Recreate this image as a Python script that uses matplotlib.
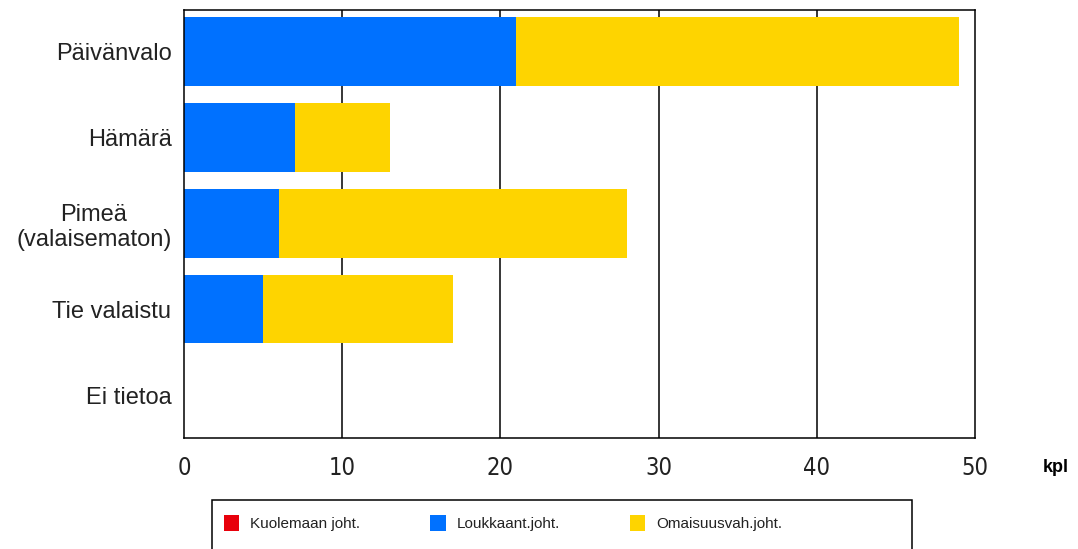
import matplotlib.pyplot as plt
from matplotlib.patches import Rectangle
from matplotlib import font_manager

# Data
categories = ['Päivänvalo', 'Hämärä', 'Pimeä\n(valaisematon)', 'Tie valaistu', 'Ei tietoa']
kuolemaan = [0, 0, 0, 0, 0]
loukkaant = [21, 7, 6, 5, 0]
omaisuus = [28, 6, 22, 12, 0]
series_names = ['Kuolemaan joht.', 'Loukkaant.joht.', 'Omaisuusvah.joht.']
x_ticks = [0, 10, 20, 30, 40, 50]

colors = ['#e8000b', '#0071ff', '#fed400']

# pick a condensed face for the x tick labels if one is installed
tick_font = dict(family='Liberation Sans', fontsize=17)
for f in font_manager.fontManager.ttflist:
    if f.name == 'Liberation Sans Narrow':
        tick_font = dict(family='Liberation Sans Narrow', fontsize=18)
        break
    if f.name == 'DejaVu Sans' and 'ondensed' in str(f.stretch).lower() + f.fname:
        tick_font = dict(family='DejaVu Sans', fontstretch='condensed', fontsize=17)

plt.rcParams['font.family'] = ['Liberation Sans', 'DejaVu Sans']

W, H = 1078, 549
fig = plt.figure(figsize=(W / 100, H / 100), dpi=100)
ax = fig.add_axes([184 / W, 1 - 438 / H, (975 - 184) / W, (438 - 10) / H])

y = list(range(len(categories)))
left = [0] * len(categories)
for vals, col in zip([kuolemaan, loukkaant, omaisuus], colors):
    ax.barh(y, vals, left=left, height=0.8, color=col, zorder=2)
    left = [l + v for l, v in zip(left, vals)]

ax.set_xlim(0, 50)
ax.set_ylim(4.5, -0.48)
ax.set_xticks(x_ticks)
ax.set_xticklabels([str(t) for t in x_ticks], color='#222222', **tick_font)
ax.set_yticks(y)
ax.set_yticklabels(categories, fontsize=17, color='#222222', multialignment='center')
ax.tick_params(axis='x', length=0, pad=13)
ax.tick_params(axis='y', length=0, pad=9)

for xv in x_ticks[1:-1]:
    ax.axvline(xv, color='black', linewidth=1.1, zorder=1)
for s in ax.spines.values():
    s.set_color('black')
    s.set_linewidth(1.1)

fig.text(1043 / W, 1 - 468 / H, 'kpl', fontsize=13, fontweight='bold', va='center', ha='left')

# Legend box drawn manually
fig.patches.append(Rectangle((212 / W, -0.05), (912 - 212) / W, (1 - 500 / H) + 0.05,
                             transform=fig.transFigure, facecolor='white',
                             edgecolor='black', linewidth=1.1))
handles = [Rectangle((0, 0), 1, 1, facecolor=c) for c in colors]
fig.legend(handles, series_names, loc='center left', bbox_to_anchor=(218 / W, 1 - 523 / H),
           ncol=3, frameon=False, fontsize=11, handlelength=1.0, handleheight=1.2,
           handletextpad=0.7, columnspacing=4.6, borderaxespad=0)
for t in fig.legends[0].get_texts():
    t.set_color('#222222')

fig.savefig('out.png', dpi=100)
